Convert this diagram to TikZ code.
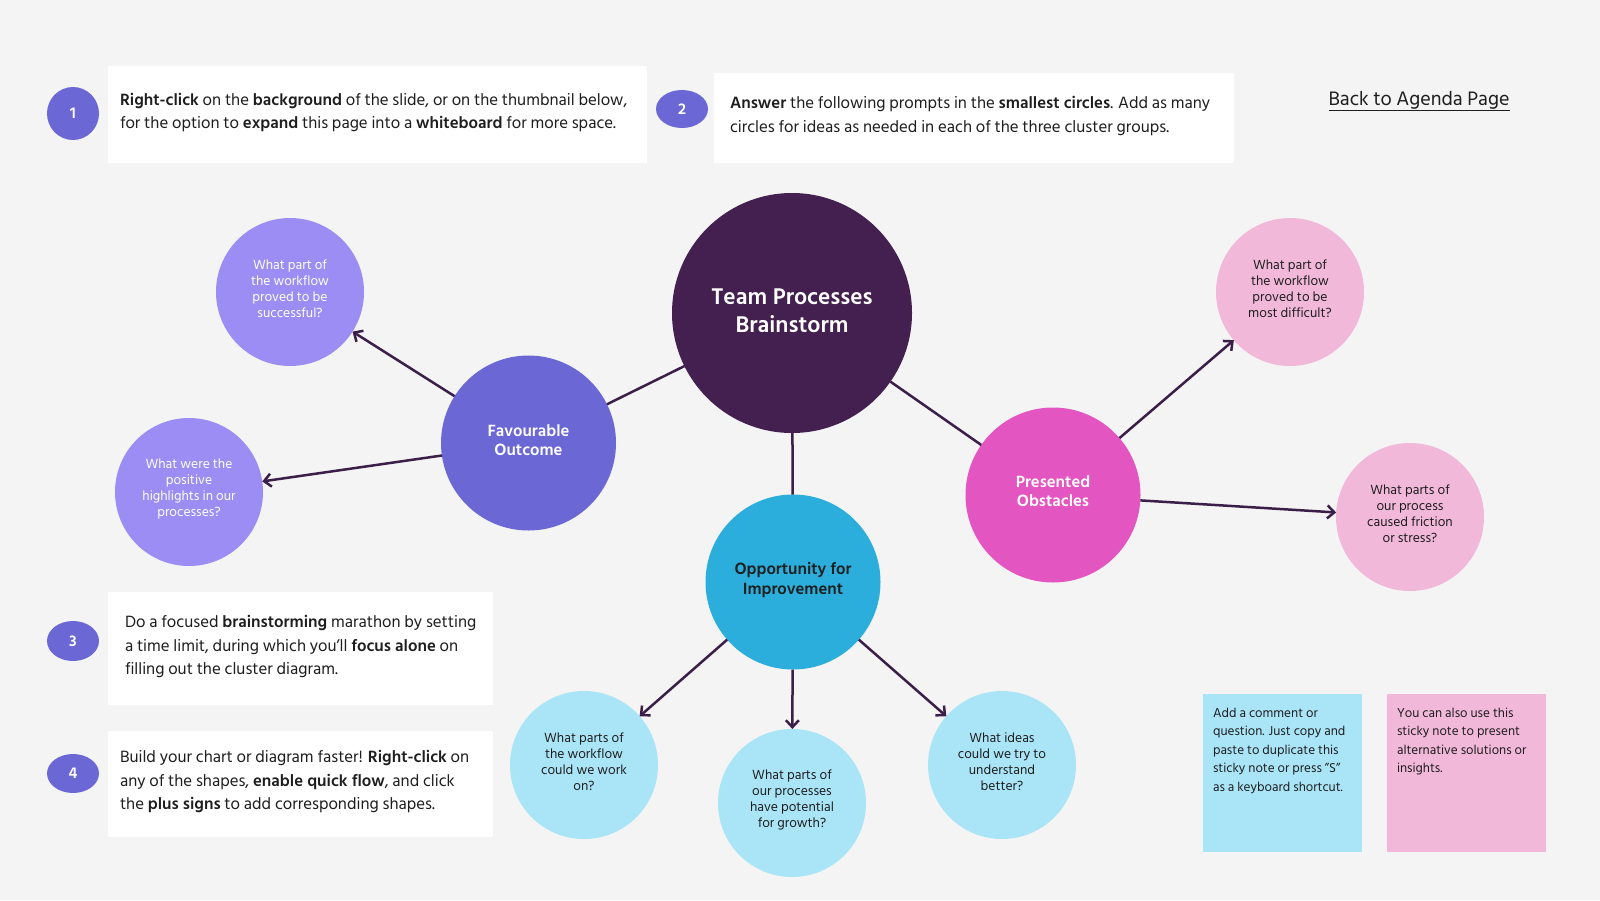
\documentclass[tikz,border=0pt]{standalone}
\usepackage{fontspec}
\setmainfont{Hind Siliguri}
\usetikzlibrary{shapes.geometric,arrows.meta}
\definecolor{bg}{HTML}{F4F4F4}
\definecolor{cdark}{HTML}{43204F}
\definecolor{cfav}{HTML}{6B67D4}
\definecolor{cpur}{HTML}{9C8DF5}
\definecolor{copp}{HTML}{2BAEDB}
\definecolor{cltblue}{HTML}{AAE5F7}
\definecolor{cobs}{HTML}{E356C1}
\definecolor{cpink}{HTML}{F2B8DA}
\definecolor{cline}{HTML}{3B1F48}
\definecolor{ctext}{HTML}{1E1E1E}
\begin{document}
\begin{tikzpicture}[x=1pt,y=-1pt,
  every node/.style={outer sep=0pt},
  badge/.style={ellipse, fill=cfav, text=white, minimum width=52, font=\bfseries\fontsize{16}{18}\selectfont, inner sep=0pt},
  whitebox/.style={rectangle, fill=white, anchor=north west, inner sep=0pt},
  btext/.style={anchor=west, align=left, inner sep=0pt, text=ctext, font=\fontsize{16.8}{23.5}\selectfont},
  disc/.style={circle, inner sep=0pt},
  ctitle/.style={align=center, inner sep=0pt},
  hubt/.style={ctitle, text=white, font=\bfseries\fontsize{23.3}{27.5}\selectfont},
  midt/.style={ctitle, font=\bfseries\fontsize{16.7}{19.5}\selectfont},
  leaft/.style={ctitle, font=\fontsize{13.6}{16}\selectfont},
  sticky/.style={rectangle, anchor=north west, minimum width=159, minimum height=158, inner sep=0pt},
  stext/.style={anchor=north west, align=left, inner sep=0pt, text=ctext, font=\fontsize{13.2}{18.5}\selectfont},
  link/.style={draw=cline, line width=2.5pt},
  conn/.style={draw=cline, line width=2.5pt, -{Straight Barb[length=7pt,width=13pt,line width=2.5pt]}}
]
\fill[bg] (0,0) rectangle (1600,900);
\useasboundingbox (0,0) rectangle (1600,900);

% instruction boxes
\node[whitebox, minimum width=539, minimum height=97] (box1) at (108,66) {};
\node[btext] (t1) at ([xshift=12pt,yshift=2pt]box1.west) {\textbf{Right-click} on the \textbf{background} of the slide, or on the thumbnail below,\\for the option to \textbf{expand} this page into a \textbf{whiteboard} for more space.};
\node[badge, minimum height=53] (n1) at (73,113.5) {1};

\node[whitebox, minimum width=520, minimum height=90] (box2) at (714,73) {};
\node[btext] (t2) at ([xshift=16pt,yshift=2pt]box2.west) {\textbf{Answer} the following prompts in the \textbf{smallest circles}. Add as many\\circles for ideas as needed in each of the three cluster groups.};
\node[badge, minimum height=38] (n2) at (682,109) {2};

\node[whitebox, minimum width=385, minimum height=113] (box3) at (108,592) {};
\node[btext] (t3) at ([xshift=17pt,yshift=2pt]box3.west) {Do a focused \textbf{brainstorming} marathon by setting\\a time limit, during which you\symbol{39}ll \textbf{focus alone} on\\filling out the cluster diagram.};
\node[badge, minimum height=40] (n3) at (73,641) {3};

\node[whitebox, minimum width=385, minimum height=106] (box4) at (108,731) {};
\node[btext] (t4) at ([xshift=12pt,yshift=2pt]box4.west) {Build your chart or diagram faster! \textbf{Right-click} on\\any of the shapes, \textbf{enable quick flow}, and click\\the \textbf{plus signs} to add corresponding shapes.};
\node[badge, minimum height=39] (n4) at (73,773.5) {4};

% link
\node[text=ctext, font=\fontsize{20}{24}\selectfont, inner sep=0pt] (agenda) at (1419,101) {\underline{Back to Agenda Page}};

% cluster: discs
\node[disc, fill=cdark, minimum size=240] (c) at (792,313) {};
\node[disc, fill=cfav, minimum size=175] (fav) at (528.5,443) {};
\node[disc, fill=copp, minimum size=175] (opp) at (793,582) {};
\node[disc, fill=cobs, minimum size=175] (obs) at (1053,495) {};
\node[disc, fill=cpur, minimum size=148] (p1) at (290,292) {};
\node[disc, fill=cpur, minimum size=148] (p2) at (189,492) {};
\node[disc, fill=cpink, minimum size=148] (k1) at (1290,292) {};
\node[disc, fill=cpink, minimum size=148] (k2) at (1410,517) {};
\node[disc, fill=cltblue, minimum size=148] (l1) at (584,765) {};
\node[disc, fill=cltblue, minimum size=148] (l2) at (792,803) {};
\node[disc, fill=cltblue, minimum size=148] (l3) at (1002,765) {};

% cluster: texts
\node[hubt] (ct) at ([yshift=2.5pt]c.center) {Team Processes\\Brainstorm};
\node[midt, text=white] (favt) at ([yshift=3pt]fav.center) {Favourable\\Outcome};
\node[midt, text=ctext] (oppt) at ([yshift=2pt]opp.center) {Opportunity for\\Improvement};
\node[midt, text=white] (obst) at ([yshift=4pt]obs.center) {Presented\\Obstacles};
\node[leaft, text=white] (p1t) at ([yshift=3pt]p1.center) {What part of\\the workflow\\proved to be\\successful?};
\node[leaft, text=white] (p2t) at ([yshift=3pt]p2.center) {What were the\\positive\\highlights in our\\processes?};
\node[leaft, text=ctext] (k1t) at ([yshift=3pt]k1.center) {What part of\\the workflow\\proved to be\\most difficult?};
\node[leaft, text=ctext] (k2t) at ([yshift=3pt]k2.center) {What parts of\\our process\\caused friction\\or stress?};
\node[leaft, text=ctext] (l1t) at ([yshift=3pt]l1.center) {What parts of\\the workflow\\could we work\\on?};
\node[leaft, text=ctext] (l2t) at ([yshift=3pt]l2.center) {What parts of\\our processes\\have potential\\for growth?};
\node[leaft, text=ctext] (l3t) at ([yshift=3pt]l3.center) {What ideas\\could we try to\\understand\\better?};

% connectors
\draw[link] (c) -- (fav);
\draw[link] (c) -- (obs);
\draw[link] (c) -- (opp);
\draw[conn] (fav) -- (p1);
\draw[conn] (fav) -- (p2);
\draw[conn] (obs) -- (k1);
\draw[conn] (obs) -- (k2);
\draw[conn] (opp) -- (l1);
\draw[conn] (opp) -- (l2);
\draw[conn] (opp) -- (l3);

% sticky notes
\node[sticky, fill=cltblue] (s1) at (1203,694) {};
\node[stext] (st1) at ([xshift=10pt,yshift=-14pt]s1.north west) {Add a comment or\\question. Just copy and\\paste to duplicate this\\sticky note or press \symbol{34}S\symbol{34}\\as a keyboard shortcut.};
\node[sticky, fill=cpink] (s2) at (1387,694) {};
\node[stext] (st2) at ([xshift=10pt,yshift=-14pt]s2.north west) {You can also use this\\sticky note to present\\alternative solutions or\\insights.};
\end{tikzpicture}
\end{document}
